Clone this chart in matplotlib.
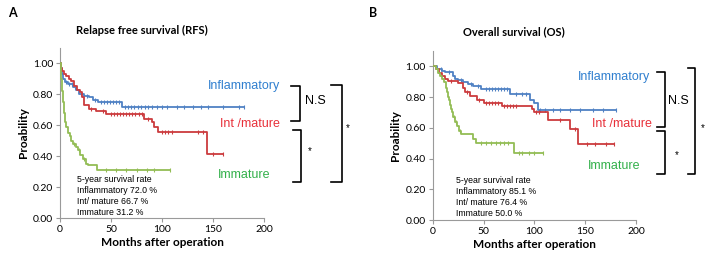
import numpy as np
import matplotlib
matplotlib.use("Agg")
import matplotlib.pyplot as plt
from matplotlib.lines import Line2D

# =====================================================
# DATA
# =====================================================

# A: relapse free survival
rfs_inf_t = [0, 1, 2, 3, 5, 8, 13, 16, 19, 24, 28, 32, 37, 61]
rfs_inf_s = [1.00, 0.97, 0.93, 0.90, 0.88, 0.865, 0.845, 0.825, 0.80, 0.79, 0.78, 0.765, 0.75, 0.72]
rfs_inf_end = 180
rfs_inf_cens = [6, 9, 12, 15, 21, 26, 34, 40, 43, 46, 49, 52, 55, 58, 64, 67, 70, 73, 76, 79,
                83, 86, 90, 95, 100, 105, 115, 122, 130, 138, 145, 160, 175, 180]

rfs_int_t = [0, 1, 2, 4, 6, 9, 11, 14, 17, 20, 22, 24, 28, 35, 45, 82, 90, 92, 96, 144]
rfs_int_s = [1.00, 0.97, 0.95, 0.93, 0.92, 0.90, 0.885, 0.85, 0.83, 0.815, 0.78, 0.73,
             0.705, 0.69, 0.672, 0.64, 0.62, 0.59, 0.555, 0.413]
rfs_int_end = 160
rfs_int_cens = [30, 42, 50, 53, 56, 59, 62, 65, 68, 71, 74, 77, 80, 86, 100, 103, 106, 110,
                135, 140, 150, 160]

rfs_imm_t = [0, 1, 2, 3, 4, 5, 6, 8, 10, 11, 13, 16, 18, 20, 23, 25, 27, 36]
rfs_imm_s = [1.00, 0.90, 0.82, 0.75, 0.68, 0.62, 0.59, 0.55, 0.53, 0.50, 0.48, 0.46, 0.44,
             0.41, 0.38, 0.35, 0.344, 0.312]
rfs_imm_end = 108
rfs_imm_cens = [14, 19, 24, 45, 55, 65, 75, 85, 92, 108]

# B: overall survival
os_inf_t = [0, 4, 9, 12, 20, 22, 25, 30, 35, 40, 48, 76, 96, 100, 104]
os_inf_s = [1.00, 0.985, 0.97, 0.965, 0.94, 0.92, 0.91, 0.895, 0.885, 0.875, 0.853, 0.82,
            0.78, 0.76, 0.717]
os_inf_end = 180
os_inf_cens = [8, 16, 28, 38, 45, 52, 55, 58, 61, 64, 67, 70, 73, 82, 88, 92, 106, 110, 118,
               125, 135, 145, 158, 168, 180]

os_int_t = [0, 3, 6, 9, 12, 15, 25, 30, 32, 37, 44, 50, 68, 98, 100, 113, 135, 143]
os_int_s = [1.00, 0.98, 0.96, 0.94, 0.92, 0.905, 0.89, 0.86, 0.83, 0.81, 0.78, 0.764, 0.745,
            0.72, 0.70, 0.65, 0.59, 0.495]
os_int_end = 178
os_int_cens = [18, 34, 46, 52, 55, 58, 61, 64, 70, 73, 76, 79, 82, 102, 105, 125, 140, 152,
               160, 170, 178]

os_imm_t = [0, 3, 5, 7, 9, 11, 13, 14, 15, 16, 17, 18, 19, 20, 22, 24, 26, 28, 40, 43, 80]
os_imm_s = [1.00, 0.98, 0.96, 0.94, 0.92, 0.90, 0.86, 0.83, 0.80, 0.78, 0.75, 0.72, 0.70,
            0.67, 0.64, 0.61, 0.58, 0.563, 0.53, 0.50, 0.435]
os_imm_end = 109
os_imm_cens = [21, 23, 27, 48, 52, 57, 62, 66, 70, 74, 85, 88, 95, 100, 109]

rfs_note = "5-year survival rate\nInflammatory 72.0 %\nInt/ mature 66.7 %\nImmature 31.2 %"
os_note = "5-year survival rate\nInflammatory 85.1 %\nInt/ mature 76.4 %\nImmature 50.0 %"

# =====================================================
# STYLE
# =====================================================

W, H = 708, 257
C_BLUE, C_RED, C_GREEN = "#4f81c4", "#cc3b3e", "#93bd55"
T_BLUE, T_RED, T_GREEN = "#2f7fcf", "#e8303a", "#32b04a"
AX_GRAY = "#9a9a9a"

fig = plt.figure(figsize=(W / 100, H / 100), dpi=100)


def fx(px):
    return px / W


def fy(py):
    return 1 - py / H


def km(ax, t, s, end, cens, color):
    t = np.asarray(t, float)
    s = np.asarray(s, float)
    ax.step(np.append(t, end), np.append(s, s[-1]), where="post",
            color=color, lw=1.3, zorder=3)
    c = np.asarray(cens, float)
    cy = s[np.searchsorted(t, c, side="right") - 1]
    ax.plot(c, cy, ls="none", marker="|", ms=2.5, mew=0.8, color=color, zorder=3)


def panel(box, curves, note, note_xy):
    ax = fig.add_axes(box)
    for args in curves:
        km(ax, *args)
    ax.set_xlim(0, 200)
    ax.set_ylim(0, 1.1)
    ax.set_xticks([0, 50, 100, 150, 200])
    ax.set_yticks(np.arange(0, 1.01, 0.2))
    ax.set_yticklabels([f"{v:.2f}" for v in np.arange(0, 1.01, 0.2)])
    for sp in ["top", "right"]:
        ax.spines[sp].set_visible(False)
    for sp in ["left", "bottom"]:
        ax.spines[sp].set_color(AX_GRAY)
        ax.spines[sp].set_linewidth(0.8)
    ax.tick_params(direction="out", length=3, width=0.8, color=AX_GRAY,
                   labelsize=7.5, pad=2)
    for lab in ax.get_xticklabels() + ax.get_yticklabels():
        lab.set_fontfamily("Lato")
    ax.set_xlabel("Months after operation", fontsize=8.5, fontweight="bold",
                  family="Lato", labelpad=2)
    ax.set_ylabel("Proability", fontsize=8.5, fontweight="bold",
                  family="Lato", labelpad=3)
    ax.text(note_xy[0], note_xy[1], note, transform=ax.transAxes, fontsize=6.3,
            family="Liberation Sans", va="top", ha="left", linespacing=1.3)
    return ax


def bracket(x, y0, y1, dx):
    fig.add_artist(Line2D([fx(x - dx), fx(x), fx(x), fx(x - dx)],
                          [fy(y0), fy(y0), fy(y1), fy(y1)],
                          transform=fig.transFigure, color="black", lw=1.2))


def label(x, y, s, color, size=9, ha="left"):
    fig.text(fx(x), fy(y), s, color=color, fontsize=size, ha=ha, va="center",
             family="Liberation Sans")


# =====================================================
# PANEL A
# =====================================================

axA = panel([fx(60), fy(218), fx(204), (218 - 47.7) / H],
            [(rfs_inf_t, rfs_inf_s, rfs_inf_end, rfs_inf_cens, C_BLUE),
             (rfs_int_t, rfs_int_s, rfs_int_end, rfs_int_cens, C_RED),
             (rfs_imm_t, rfs_imm_s, rfs_imm_end, rfs_imm_cens, C_GREEN)],
            rfs_note, (0.085, 0.255))

fig.text(fx(12), fy(13), "A", fontsize=9, fontweight="bold", family="Lato",
         ha="center", va="center")
fig.text(fx(142), fy(30), "Relapse free survival (RFS)", fontsize=8,
         fontweight="bold", family="Lato", ha="center", va="center")

label(208, 86, "Inflammatory", T_BLUE)
label(220, 124, "Int /mature", T_RED)
label(218, 175, "Immature", T_GREEN)

bracket(299.5, 86, 120.7, 8.5)
bracket(300.5, 130, 182, 8)
bracket(341.7, 85.5, 182, 11)
label(315, 101, "N.S", "black", size=9, ha="center")
label(310, 151, "*", "black", size=7, ha="center")
label(348, 128, "*", "black", size=7, ha="center")

# =====================================================
# PANEL B
# =====================================================

axB = panel([fx(432.7), fy(220), fx(203.3), (220 - 51) / H],
            [(os_inf_t, os_inf_s, os_inf_end, os_inf_cens, C_BLUE),
             (os_int_t, os_int_s, os_int_end, os_int_cens, C_RED),
             (os_imm_t, os_imm_s, os_imm_end, os_imm_cens, C_GREEN)],
            os_note, (0.115, 0.26))

fig.text(fx(373), fy(13), "B", fontsize=9, fontweight="bold", family="Lato",
         ha="center", va="center")
fig.text(fx(514), fy(32), "Overall survival (OS)", fontsize=8,
         fontweight="bold", family="Lato", ha="center", va="center")

label(578, 77, "Inflammatory", T_BLUE)
label(592, 124, "Int /mature", T_RED)
label(588, 166, "Immature", T_GREEN)

bracket(665, 72, 127, 8)
bracket(665, 131, 174, 8)
bracket(695, 68, 174, 7)
label(678, 101, "N.S", "black", size=9, ha="center")
label(677, 155, "*", "black", size=7, ha="center")
label(703, 128, "*", "black", size=7, ha="center")

fig.savefig("out.png", dpi=100)
